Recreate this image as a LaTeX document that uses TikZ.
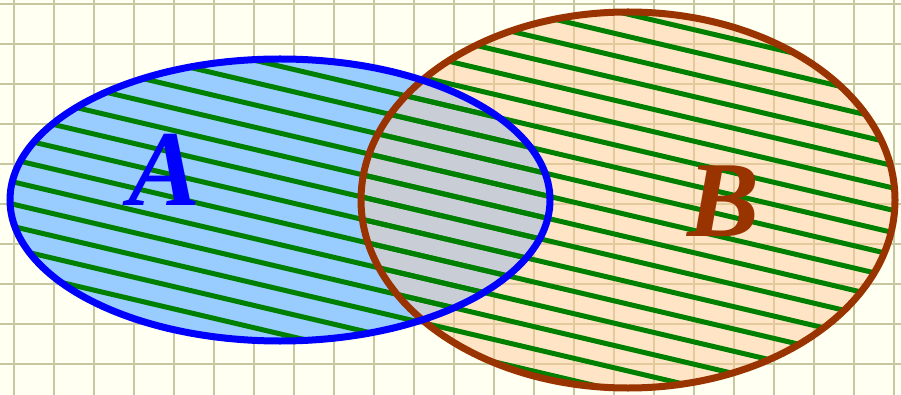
\documentclass[tikz,border=0pt]{standalone}
\usepackage{fontspec}
\setmainfont{Liberation Serif}
\definecolor{bgcream}{RGB}{255,255,242}
\definecolor{gridc}{RGB}{200,200,160}
\definecolor{peach}{RGB}{255,204,153}
\definecolor{lightblue}{RGB}{153,204,255}
\definecolor{interg}{RGB}{201,205,214}
\definecolor{hatchgreen}{RGB}{0,128,0}
\definecolor{brownc}{RGB}{153,51,0}
\definecolor{blueA}{RGB}{0,0,255}
\begin{document}
\begin{tikzpicture}[x=1pt,y=-1pt,
  gridline/.style={draw=gridc,line width=2.5pt},
  hatchline/.style={draw=hatchgreen,line width=5pt},
  outlineA/.style={draw=blueA,line width=7pt},
  outlineB/.style={draw=brownc,line width=7pt},
  lbl/.style={inner sep=0pt,font=\fontsize{108}{108}\selectfont\bfseries\itshape}]
\useasboundingbox (0,0) rectangle (901,395);
\fill[bgcream] (0,0) rectangle (901,395);
\foreach \i in {0,...,22} \draw[gridline] ({14+40*\i},0) -- ({14+40*\i},395);
\foreach \j in {0,...,9} \draw[gridline] (0,{4+40*\j}) -- (901,{4+40*\j});
\def\ellA{(280,200) ellipse [x radius=270pt, y radius=141pt]}
\def\ellB{(628,200) ellipse [x radius=267pt, y radius=188pt]}
% fills
\fill[peach,fill opacity=0.5] \ellB;
\fill[lightblue] \ellA;
\begin{scope}
  \clip \ellA;
  \fill[interg] \ellB;
\end{scope}
% hatching
\begin{scope}
  \clip \ellA;
  \foreach \k in {-12,...,18}
    \draw[hatchline] (0,{22.75+22.3*\k}) -- (901,{22.75+22.3*\k+211.7});
\end{scope}
\begin{scope}
  \clip \ellB;
  \foreach \k in {-12,...,18}
    \draw[hatchline] (0,{22.75+22.3*\k}) -- (901,{22.75+22.3*\k+211.7});
\end{scope}
% outlines
\draw[outlineB] \ellB;
\draw[outlineA] \ellA;
% labels
\node[lbl,text=blueA] (labA) at (165,170) {A};
\node[lbl,text=brownc] (labB) at (724,201) {B};
\end{tikzpicture}
\end{document}
